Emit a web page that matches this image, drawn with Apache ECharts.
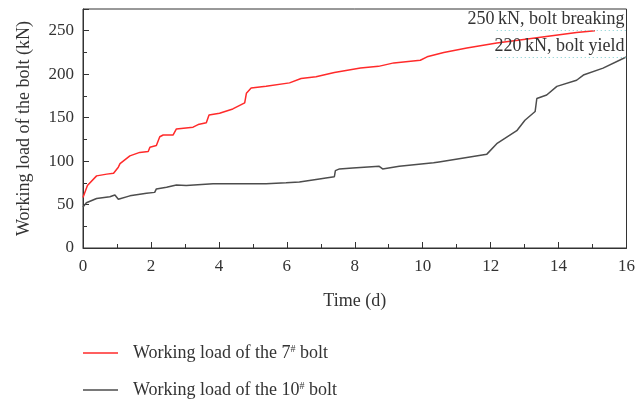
<!DOCTYPE html>
<html>
<head>
<meta charset="utf-8">
<script src="https://cdn.jsdelivr.net/npm/echarts@6/dist/echarts.min.js"></script>
<style>html,body{margin:0;padding:0;background:#fff}#c{width:638px;height:400px}</style>
</head>
<body>
<div id="c"></div>
<script>
const redT = [0,0.13,0.4,0.7,0.9,1.04,1.09,1.38,1.67,1.92,1.97,2.16,2.26,2.36,2.65,2.75,3.24,3.39,3.63,3.71,4.02,4.41,4.76,4.81,4.95,5.39,6.08,6.42,6.86,7.4,8.17,8.7,9.15,9.93,10.13,10.62,11.3,12.18,12.97,13.75,14.53,15.07];
const redV = [58,72,83,85,86,93,97,106,110,111,116,118,128,130,130,137,139,142,144,153,155,160,167,178,184,186,190,195,197,202,207,209,213,216,220,225,230,236,240,244,248,250];
const grayT = [0,0.1,0.4,0.79,0.94,1.04,1.38,1.87,2.11,2.16,2.46,2.75,3.04,3.83,4.41,5.39,5.98,6.37,6.96,7.15,7.4,7.43,7.55,7.94,8.72,8.82,9.31,10.32,10.48,11.89,12.18,12.77,13.01,13.31,13.36,13.65,13.95,14.53,14.73,15.31,15.9,16];
const grayV = [47,52,57,59,61,56,60,63,64,68,70,72.5,72,74,74,74,75,76,79.5,80.6,82,89,91,92,94,91,94,98,99,108,120,135,147,157,172,176,186,193,199,207,218,220];
const seriesNames = ['Working load of the 7# bolt', 'Working load of the 10# bolt'];
const annoValues = [250, 220];
const annoStart = [12.18, 12.18];
const annoEnd = [16, 16];
const annoTexts = ['250\u2009kN, bolt breaking', '220\u2009kN, bolt yield'];

const FONT = 'Liberation Serif';
const chart = echarts.init(document.getElementById('c'));
const zip = (a, b) => a.map((v, i) => [v, b[i]]);

chart.setOption({
  animation: false,
  textStyle: { fontFamily: FONT, color: '#333' },
  grid: { left: 83, right: 10, top: 9, bottom: 152, show: true, borderColor: '#333', borderWidth: 1 },
  xAxis: {
    type: 'value', min: 0, max: 16, interval: 2,
    name: 'Time (d)', nameLocation: 'middle', nameGap: 44,
    nameTextStyle: { fontFamily: FONT, fontSize: 18, color: '#333' },
    axisLine: { show: true, lineStyle: { color: '#333', width: 1 } },
    axisTick: { show: true, inside: true, length: 6, lineStyle: { color: '#333' } },
    minorTick: { show: true, splitNumber: 2, length: 4, lineStyle: { color: '#333' } },
    splitLine: { show: false },
    axisLabel: { fontFamily: FONT, fontSize: 17, color: '#333', margin: 10 }
  },
  yAxis: {
    type: 'value', min: 0, max: 275, interval: 50,
    name: 'Working load of the bolt (kN)', nameLocation: 'middle', nameGap: 50,
    nameTextStyle: { fontFamily: FONT, fontSize: 18, color: '#333' },
    axisLine: { show: true, lineStyle: { color: '#333', width: 1 } },
    axisTick: { show: true, inside: true, length: 6, lineStyle: { color: '#333' } },
    minorTick: { show: true, splitNumber: 2, length: 4, lineStyle: { color: '#333' } },
    splitLine: { show: false },
    axisLabel: { fontFamily: FONT, fontSize: 17, color: '#333', margin: 9, showMaxLabel: false,
      formatter: v => (v % 50 === 0 ? String(v) : '') }
  },
  legend: {
    orient: 'vertical', left: 83, top: 344, padding: 0,
    icon: 'rect', itemWidth: 35, itemHeight: 1.5, itemGap: 19,
    data: seriesNames,
    formatter: n => n.replace('#', '{sup|#}'),
    textStyle: {
      fontFamily: FONT, fontSize: 18, color: '#333', padding: [0, 0, 0, 10], lineHeight: 18,
      rich: { sup: { fontFamily: FONT, fontSize: 10, color: '#333', verticalAlign: 'top', lineHeight: 18, padding: [0, 0, 6, 0] } }
    }
  },
  series: [
    {
      name: seriesNames[0], type: 'line', symbol: 'none',
      data: zip(redT, redV),
      lineStyle: { color: '#ff2a2a', width: 1.5 }, itemStyle: { color: '#ff2a2a' },
      markLine: {
        silent: true, symbol: 'none',
        lineStyle: { color: '#7fcfd0', type: [1, 3], width: 1.2 },
        label: {
          show: true, position: 'insideEndTop', distance: [2, 2],
          fontFamily: FONT, fontSize: 18, color: '#333',
          formatter: p => annoTexts[p.dataIndex]
        },
        data: annoValues.map((v, i) => [{ coord: [annoStart[i], v] }, { coord: [annoEnd[i], v] }])
      }
    },
    {
      name: seriesNames[1], type: 'line', symbol: 'none',
      data: zip(grayT, grayV),
      lineStyle: { color: '#4d4d4d', width: 1.5 }, itemStyle: { color: '#4d4d4d' }
    }
  ]
});
</script>
</body>
</html>
